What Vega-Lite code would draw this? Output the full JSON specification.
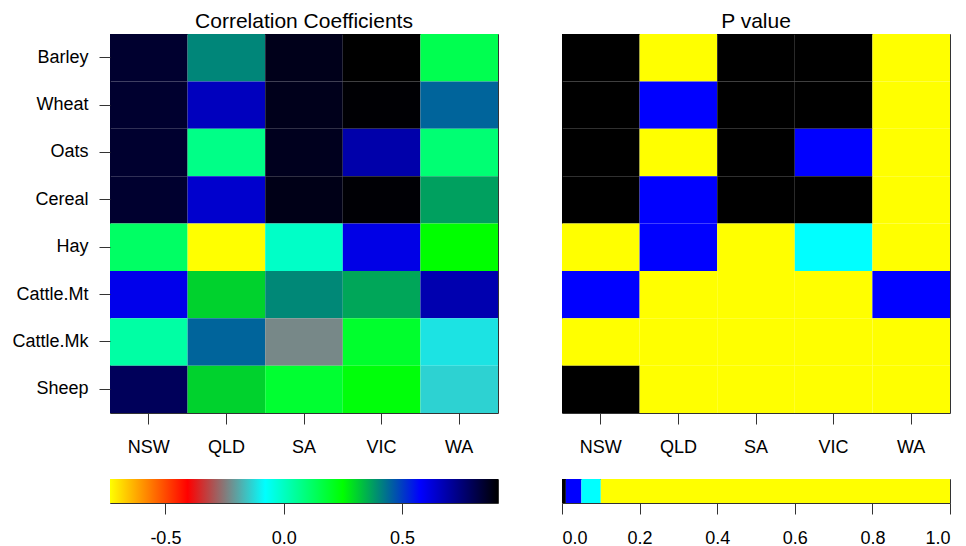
{
  "$schema": "https://vega.github.io/schema/vega-lite/v6.json",
  "padding": {"left": 11, "top": 10, "right": 4, "bottom": 4},
  "background": "white",
  "config": {
    "font": "Liberation Sans",
    "locale": {"number": {"decimal": ".", "thousands": ",", "grouping": [3], "currency": ["$", ""], "minus": "-"}},
    "view": {"stroke": "#333", "strokeWidth": 1},
    "axis": {
      "labelFont": "Liberation Sans",
      "labelFontSize": 18,
      "labelColor": "#000",
      "tickColor": "#333",
      "tickSize": 11,
      "tickWidth": 1,
      "labelPadding": 11,
      "domain": false,
      "grid": false,
      "title": null
    },
    "title": {"font": "Liberation Sans", "fontSize": 21, "fontWeight": "normal", "color": "#000", "anchor": "middle", "offset": 2}
  },
  "datasets": {
    "cells": [
      {"crop": "Barley", "state": "NSW", "r": 0.845, "p": 0.002},
      {"crop": "Barley", "state": "QLD", "r": 0.405, "p": 0.35},
      {"crop": "Barley", "state": "SA", "r": 0.872, "p": 0.001},
      {"crop": "Barley", "state": "VIC", "r": 0.905, "p": 0.0005},
      {"crop": "Barley", "state": "WA", "r": 0.147, "p": 0.55},
      {"crop": "Wheat", "state": "NSW", "r": 0.845, "p": 0.002},
      {"crop": "Wheat", "state": "QLD", "r": 0.661, "p": 0.03},
      {"crop": "Wheat", "state": "SA", "r": 0.87, "p": 0.001},
      {"crop": "Wheat", "state": "VIC", "r": 0.9, "p": 0.0005},
      {"crop": "Wheat", "state": "WA", "r": 0.449, "p": 0.21},
      {"crop": "Oats", "state": "NSW", "r": 0.845, "p": 0.002},
      {"crop": "Oats", "state": "QLD", "r": 0.076, "p": 0.62},
      {"crop": "Oats", "state": "SA", "r": 0.866, "p": 0.001},
      {"crop": "Oats", "state": "VIC", "r": 0.686, "p": 0.02},
      {"crop": "Oats", "state": "WA", "r": 0.102, "p": 0.48},
      {"crop": "Cereal", "state": "NSW", "r": 0.845, "p": 0.002},
      {"crop": "Cereal", "state": "QLD", "r": 0.641, "p": 0.025},
      {"crop": "Cereal", "state": "SA", "r": 0.875, "p": 0.001},
      {"crop": "Cereal", "state": "VIC", "r": 0.898, "p": 0.0005},
      {"crop": "Cereal", "state": "WA", "r": 0.371, "p": 0.27},
      {"crop": "Hay", "state": "NSW", "r": 0.121, "p": 0.45},
      {"crop": "Hay", "state": "QLD", "r": -0.734, "p": 0.04},
      {"crop": "Hay", "state": "SA", "r": -0.007, "p": 0.88},
      {"crop": "Hay", "state": "VIC", "r": 0.609, "p": 0.07},
      {"crop": "Hay", "state": "WA", "r": 0.249, "p": 0.33},
      {"crop": "Cattle.Mt", "state": "NSW", "r": 0.603, "p": 0.03},
      {"crop": "Cattle.Mt", "state": "QLD", "r": 0.307, "p": 0.29},
      {"crop": "Cattle.Mt", "state": "SA", "r": 0.403, "p": 0.18},
      {"crop": "Cattle.Mt", "state": "VIC", "r": 0.364, "p": 0.22},
      {"crop": "Cattle.Mt", "state": "WA", "r": 0.68, "p": 0.02},
      {"crop": "Cattle.Mk", "state": "NSW", "r": 0.038, "p": 0.81},
      {"crop": "Cattle.Mk", "state": "QLD", "r": 0.449, "p": 0.16},
      {"crop": "Cattle.Mk", "state": "SA", "r": -0.232, "p": 0.41},
      {"crop": "Cattle.Mk", "state": "VIC", "r": 0.192, "p": 0.52},
      {"crop": "Cattle.Mk", "state": "WA", "r": -0.114, "p": 0.74},
      {"crop": "Sheep", "state": "NSW", "r": 0.789, "p": 0.006},
      {"crop": "Sheep", "state": "QLD", "r": 0.307, "p": 0.3},
      {"crop": "Sheep", "state": "SA", "r": 0.186, "p": 0.57},
      {"crop": "Sheep", "state": "VIC", "r": 0.236, "p": 0.44},
      {"crop": "Sheep", "state": "WA", "r": -0.136, "p": 0.69}
    ],
    "ramp": [
      {"lo": -0.734, "hi": 0.905}
    ],
    "pbands": [
      {"lo": 0, "hi": 0.01},
      {"lo": 0.01, "hi": 0.05},
      {"lo": 0.05, "hi": 0.1},
      {"lo": 0.1, "hi": 1}
    ]
  },
  "hconcat": [
    {
      "spacing": 21,
      "vconcat": [
        {
          "title": "Correlation Coefficients",
          "width": 388,
          "height": 379,
          "data": {"name": "cells"},
          "mark": {"type": "rect"},
          "encoding": {
            "x": {
              "field": "state", "type": "nominal",
              "sort": ["NSW", "QLD", "SA", "VIC", "WA"],
              "scale": {"paddingInner": 0, "paddingOuter": 0},
              "axis": {"labelAngle": 0, "bandPosition": 0.5, "labelPadding": 14}
            },
            "y": {
              "field": "crop", "type": "nominal",
              "sort": ["Barley", "Wheat", "Oats", "Cereal", "Hay", "Cattle.Mt", "Cattle.Mk", "Sheep"],
              "scale": {"paddingInner": 0, "paddingOuter": 0},
              "axis": {"bandPosition": 0.5}
            },
            "color": {
              "field": "r", "type": "quantitative",
              "scale": {
                "type": "linear",
                "domain": [-0.734, -0.4062, -0.0784, 0.2494, 0.5772, 0.905],
                "range": ["#ffff00", "#ff0000", "#00ffff", "#00ff00", "#0000ff", "#000000"],
                "interpolate": "rgb"
              },
              "legend": null
            }
          }
        },
        {
          "width": 388,
          "height": 24,
          "data": {"name": "ramp"},
          "mark": {
            "type": "rect",
            "color": {
              "gradient": "linear", "x1": 0, "x2": 1, "y1": 0, "y2": 0,
              "stops": [
                {"offset": 0, "color": "#ffff00"},
                {"offset": 0.2, "color": "#ff0000"},
                {"offset": 0.4, "color": "#00ffff"},
                {"offset": 0.6, "color": "#00ff00"},
                {"offset": 0.8, "color": "#0000ff"},
                {"offset": 1, "color": "#000000"}
              ]
            }
          },
          "encoding": {
            "x": {
              "field": "lo", "type": "quantitative",
              "scale": {"domain": [-0.734, 0.905], "nice": false, "zero": false},
              "axis": {"values": [-0.5, 0, 0.5], "format": ".1f", "labelPadding": 15}
            },
            "x2": {"field": "hi"}
          }
        }
      ],
      "resolve": {"scale": {"x": "independent", "y": "independent", "color": "independent"}}
    },
    {
      "spacing": 21,
      "vconcat": [
        {
          "title": "P value",
          "width": 388,
          "height": 379,
          "data": {"name": "cells"},
          "mark": {"type": "rect"},
          "encoding": {
            "x": {
              "field": "state", "type": "nominal",
              "sort": ["NSW", "QLD", "SA", "VIC", "WA"],
              "scale": {"paddingInner": 0, "paddingOuter": 0},
              "axis": {"labelAngle": 0, "bandPosition": 0.5, "labelPadding": 14}
            },
            "y": {
              "field": "crop", "type": "nominal",
              "sort": ["Barley", "Wheat", "Oats", "Cereal", "Hay", "Cattle.Mt", "Cattle.Mk", "Sheep"],
              "scale": {"paddingInner": 0, "paddingOuter": 0},
              "axis": null
            },
            "color": {
              "field": "p", "type": "quantitative",
              "scale": {
                "type": "threshold",
                "domain": [0.01, 0.05, 0.1],
                "range": ["#000000", "#0000ff", "#00ffff", "#ffff00"]
              },
              "legend": null
            }
          }
        },
        {
          "width": 388,
          "height": 24,
          "data": {"name": "pbands"},
          "mark": {"type": "rect"},
          "encoding": {
            "x": {
              "field": "lo", "type": "quantitative",
              "scale": {"domain": [0, 1], "nice": false, "zero": false},
              "axis": {"values": [0, 0.2, 0.4, 0.6, 0.8, 1], "format": ".1f", "labelPadding": 15}
            },
            "x2": {"field": "hi"},
            "color": {
              "field": "lo", "type": "quantitative",
              "scale": {
                "type": "threshold",
                "domain": [0.01, 0.05, 0.1],
                "range": ["#000000", "#0000ff", "#00ffff", "#ffff00"]
              },
              "legend": null
            }
          }
        }
      ],
      "resolve": {"scale": {"x": "independent", "y": "independent", "color": "independent"}}
    }
  ],
  "spacing": 62,
  "resolve": {"scale": {"x": "independent", "y": "independent", "color": "independent"}}
}
